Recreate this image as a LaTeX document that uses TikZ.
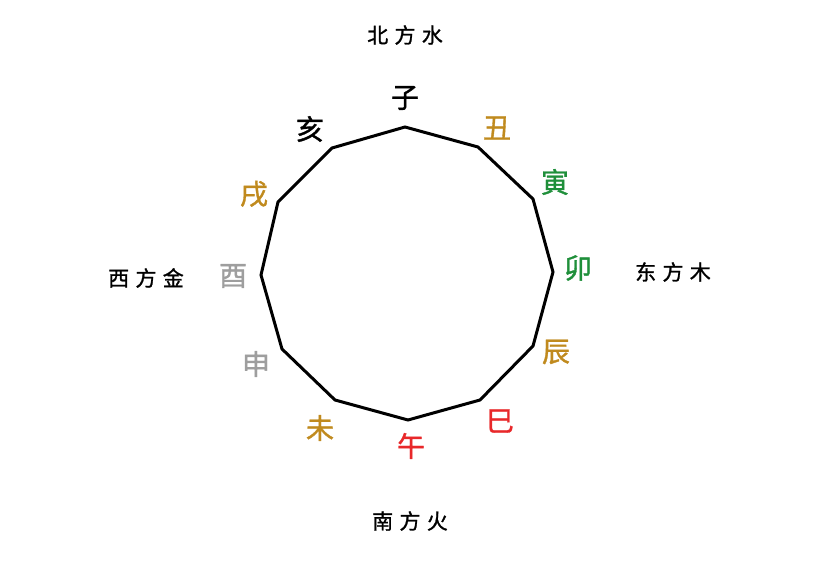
\documentclass[tikz,border=0pt]{standalone}
\usepackage{fontspec}
\newfontfamily\cjk[FakeBold=1.2]{Noto Sans CJK SC}
\definecolor{gold}{HTML}{C08A1E}
\definecolor{wood}{HTML}{1F8F3A}
\definecolor{fire}{HTML}{E8282A}
\definecolor{metal}{HTML}{9E9E9E}
\tikzset{
  br/.style={font=\cjk\fontsize{28}{28}\selectfont, inner sep=0pt, anchor=center},
  dir/.style={font=\cjk\fontsize{21}{21}\selectfont, inner sep=0pt, anchor=center},
}
\newcommand{\spc}{\hspace{0.3em}}
\begin{document}
\begin{tikzpicture}[x=1pt,y=-1pt]
\useasboundingbox (0,0) rectangle (835,561);
\coordinate (v0) at (405,127);
\coordinate (v1) at (478,147);
\coordinate (v2) at (533,199);
\coordinate (v3) at (553,272);
\coordinate (v4) at (533,346);
\coordinate (v5) at (480,400);
\coordinate (v6) at (408,420);
\coordinate (v7) at (335,400);
\coordinate (v8) at (282,349);
\coordinate (v9) at (261,275);
\coordinate (v10) at (278,202);
\coordinate (v11) at (332,148);
\draw[line width=3pt, line join=miter] (v0)--(v1)--(v2)--(v3)--(v4)--(v5)--(v6)--(v7)--(v8)--(v9)--(v10)--(v11)--cycle;
\node[br] (zi) at (405,98) {子};
\node[br, text=gold] (chou) at (497,128) {丑};
\node[br, text=wood] (yin) at (555,182) {寅};
\node[br, text=wood] (mao) at (578,268) {卯};
\node[br, text=gold] (chen) at (556,352) {辰};
\node[br, text=fire] (si) at (500,421) {巳};
\node[br, text=fire] (wu) at (411,446) {午};
\node[br, text=gold] (wei) at (320,428) {未};
\node[br, text=metal] (shen) at (256,364) {申};
\node[br, text=metal] (you) at (233,276) {酉};
\node[br, text=gold] (xu) at (254,194) {戌};
\node[br] (hai) at (310,129) {亥};
\node[dir] (north) at (405,35) {北\spc 方\spc 水};
\node[dir] (east) at (673,272) {东\spc 方\spc 木};
\node[dir] (south) at (410,521) {南\spc 方\spc 火};
\node[dir] (west) at (146,278) {西\spc 方\spc 金};
\end{tikzpicture}
\end{document}
